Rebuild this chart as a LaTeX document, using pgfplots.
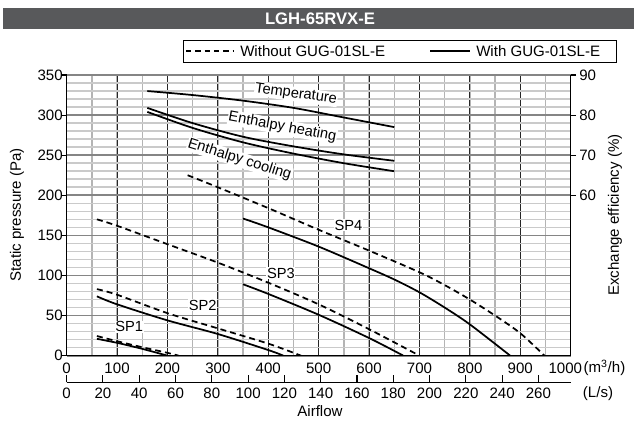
\documentclass[border=0pt]{standalone}
\usepackage{fontspec}
\setmainfont{Liberation Sans}
\usepackage{pgfplots}
\pgfplotsset{compat=1.18}

\definecolor{barfill}{HTML}{58595B}
\definecolor{gmaj}{HTML}{858585}
\definecolor{gmin}{HTML}{CACACA}
\definecolor{vmin}{HTML}{B4B4B4}

\pgfplotsset{
  chartbase/.style={
    at={(50pt,49pt)}, anchor=south west,
    scale only axis, width=378pt, height=210.5pt,
    xmin=0, xmax=1000,
    axis line style={-, black, line width=0.8pt},
    tick style={black, line width=0.8pt},
    tick align=outside, major tick length=4pt,
    /pgf/number format/assume math mode=true,
    /pgf/number format/1000 sep={},
  },
  curve/.style={black, line width=1.3pt, smooth},
  nodash/.style={curve, dash pattern=on 4.5pt off 3pt},
}
\tikzset{lbl/.style={fill=white, inner sep=0.5pt, font=\fontsize{11}{13}\selectfont}}

\begin{document}
\fontsize{11.3}{13.5}\selectfont
\begin{tikzpicture}
\path[use as bounding box] (0,0) rectangle (477.75pt,315.75pt);

% title bar
\fill[barfill] (2.25pt,294pt) rectangle (475.5pt,309.75pt);
\node[text=white, font=\bfseries\fontsize{12.5}{14}\selectfont] at (240pt,302pt) {LGH-65RVX-E};

% legend
\draw[line width=0.6pt] (137.25pt,269.25pt) rectangle (462pt,285.75pt);
\draw[line width=1.1pt, dash pattern=on 4pt off 3pt] (139.5pt,277.5pt) -- (175pt,277.5pt);
\node[anchor=west, inner sep=0] at (180pt,277.5pt) {Without GUG-01SL-E};
\draw[line width=1.1pt] (322.5pt,277.5pt) -- (352.5pt,277.5pt);
\node[anchor=west, inner sep=0] at (357pt,277.5pt) {With GUG-01SL-E};

% static pressure axis
\begin{axis}[chartbase,
  ymin=0, ymax=350,
  axis x line*=bottom, axis y line*=left,
  xtick={0,100,...,900}, minor xtick={0,50,...,1000},
  extra x ticks={1000},
  extra x tick style={xticklabel style={xshift=-4pt}},
  ytick={0,50,...,350}, minor ytick={0,10,...,350},
  x tick style={draw=none}, minor tick length=0pt,
  grid=both,
  minor x grid style={vmin, line width=1pt},
  major x grid style={black!85, line width=0.7pt},
  minor y grid style={gmin, line width=1.2pt},
  major y grid style={gmaj, line width=1.3pt},
  xticklabel style={yshift=2.3pt},
  yticklabel style={xshift=5pt},
]
% SP1
\addplot[nodash] coordinates {(60,24.5) (100,18) (150,10.5) (200,3.5) (222,0)};
\addplot[curve] coordinates {(60,21) (100,16) (150,8.5) (200,0)};
% SP2
\addplot[nodash] coordinates {(60,83) (100,76) (200,53) (300,34) (400,15) (465,0)};
\addplot[curve] coordinates {(60,74) (100,64) (200,44) (300,27) (400,7) (430,0)};
% SP3
\addplot[nodash] coordinates {(60,170) (100,162) (200,139) (300,116) (400,91) (500,64) (600,33) (700,0)};
\addplot[curve] coordinates {(350,89) (400,77) (500,51) (600,22) (668,0)};
% SP4
\addplot[nodash] coordinates {(240,225) (300,210) (400,184) (500,157) (600,131) (700,104) (750,88) (800,70) (850,50) (900,28) (948,0)};
\addplot[curve] coordinates {(350,171) (400,160) (500,136) (600,109) (650,95) (700,79) (750,60) (800,39) (880,0)};

\node[lbl] at (axis cs:124,36) {SP1};
\node[lbl] at (axis cs:270,63) {SP2};
\node[lbl] at (axis cs:425,103) {SP3};
\node[lbl] at (axis cs:559,163) {SP4};
\end{axis}

% exchange efficiency axis
\begin{axis}[chartbase,
  ymin=20, ymax=90,
  axis x line=none, axis y line*=right,
  ytick={60,70,80,90},
  yticklabel style={xshift=-1.5pt},
]
\addplot[curve] coordinates {(160,86) (250,85) (350,83.6) (450,81.8) (550,79.4) (650,77)};
\addplot[curve] coordinates {(160,81.8) (250,78) (350,74.6) (450,72.2) (550,70.2) (650,68.6)};
\addplot[curve] coordinates {(160,80.8) (250,76.8) (350,73.2) (450,70.4) (550,68) (650,66)};

\node[lbl, rotate=-8] at (axis cs:455,85.2) {Temperature};
\node[lbl, rotate=-10.5] at (axis cs:428,77.0) {Enthalpy heating};
\node[lbl, rotate=-17.5] at (axis cs:343,68.9) {Enthalpy cooling};
\end{axis}

% airflow in L/s
\begin{axis}[
  at={(50pt,28.9pt)}, anchor=south west,
  scale only axis, width=378pt, height=10pt,
  xmin=0, xmax=277.78, ymin=0, ymax=1,
  axis x line*=bottom, hide y axis,
  axis line style={-, black, line width=0.8pt},
  xtick={0,20,...,260},
  tick style={black, line width=0.8pt},
  tick align=inside, major tick length=5.25pt,
  /pgf/number format/assume math mode=true,
]
\end{axis}

\node[anchor=west, inner sep=0] at (437.5pt,39.8pt) {(m\textsuperscript{3}/h)};
\node at (448.5pt,20.8pt) {(L/s)};
\node at (240pt,7.5pt) {Airflow};
\node[rotate=90] at (12.75pt,154.5pt) {Static pressure (Pa)};
\node[rotate=90] at (461.25pt,154.5pt) {Exchange efficiency (\%)};
\end{tikzpicture}
\end{document}
